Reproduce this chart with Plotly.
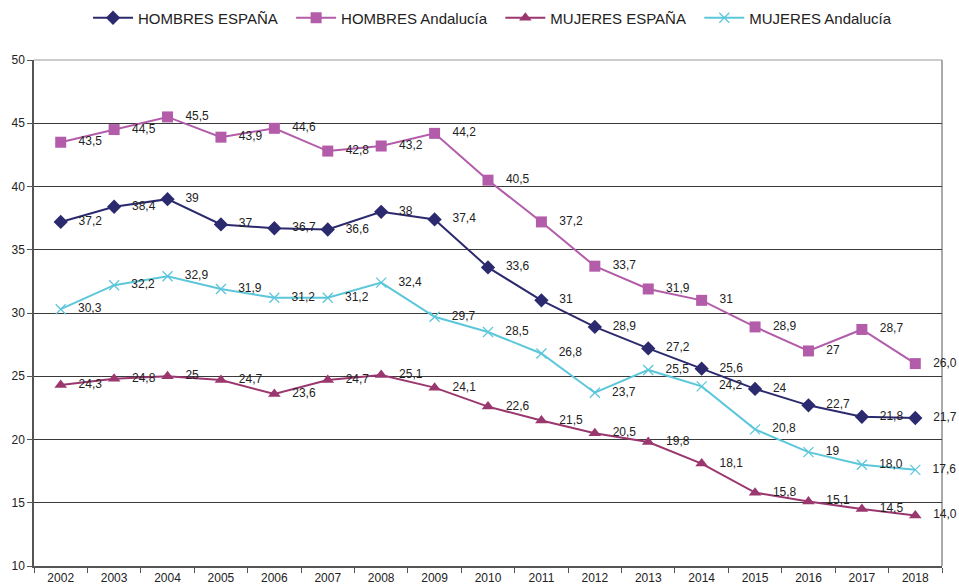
import plotly.graph_objects as go

years = [str(y) for y in range(2002, 2019)]

hombres_espana = [37.2, 38.4, 39, 37, 36.7, 36.6, 38, 37.4, 33.6, 31, 28.9, 27.2, 25.6, 24, 22.7, 21.8, 21.7]
hombres_andalucia = [43.5, 44.5, 45.5, 43.9, 44.6, 42.8, 43.2, 44.2, 40.5, 37.2, 33.7, 31.9, 31, 28.9, 27, 28.7, 26.0]
mujeres_espana = [24.3, 24.8, 25, 24.7, 23.6, 24.7, 25.1, 24.1, 22.6, 21.5, 20.5, 19.8, 18.1, 15.8, 15.1, 14.5, 14.0]
mujeres_andalucia = [30.3, 32.2, 32.9, 31.9, 31.2, 31.2, 32.4, 29.7, 28.5, 26.8, 23.7, 25.5, 24.2, 20.8, 19, 18.0, 17.6]

# indices whose label is shown with one fixed decimal
fixed_decimal = {
    "HOMBRES ESPAÑA": [16],
    "HOMBRES Andalucía": [16],
    "MUJERES ESPAÑA": [16],
    "MUJERES Andalucía": [15, 16],
}

y_ticks = [10, 15, 20, 25, 30, 35, 40, 45, 50]


def fmt(v, fixed):
    s = f"{v:.1f}" if fixed else f"{v:g}"
    return s.replace(".", ",")


def labels(name, vals):
    return ["   " + fmt(v, i in fixed_decimal[name]) for i, v in enumerate(vals)]


series = [
    ("HOMBRES ESPAÑA", hombres_espana, "#2C2A6E", dict(symbol="diamond", size=11)),
    ("HOMBRES Andalucía", hombres_andalucia, "#B25CAA", dict(symbol="square", size=11)),
    ("MUJERES ESPAÑA", mujeres_espana, "#9A376F", dict(symbol="triangle-up", size=11)),
    ("MUJERES Andalucía", mujeres_andalucia, "#5CC7DB", dict(symbol="x-thin", size=10, line=dict(width=1.3))),
]

fig = go.Figure()
for name, vals, color, mk in series:
    marker = dict(color=color, **{k: v for k, v in mk.items() if k != "line"})
    if "line" in mk:
        marker["line"] = dict(color=color, width=mk["line"]["width"])
    fig.add_trace(go.Scatter(
        x=years, y=vals, name=name + "\u00a0" * 2, mode="lines+markers+text",
        line=dict(color=color, width=2),
        marker=marker,
        text=labels(name, vals), textposition="middle right",
        textfont=dict(family="Liberation Sans, Arial, sans-serif", size=12, color="#222222"),
        cliponaxis=False,
    ))

fig.update_layout(
    width=959, height=585,
    margin=dict(l=34, r=17, t=60, b=19, autoexpand=False),
    paper_bgcolor="white", plot_bgcolor="white",
    font=dict(family="Liberation Sans, Arial, sans-serif", size=12, color="#222222"),
    legend=dict(orientation="h", x=0.0595, xanchor="left", y=1.083, yanchor="middle",
                font=dict(size=15, color="#222222"), tracegroupgap=0, itemwidth=40),
    showlegend=True,
)
fig.update_xaxes(
    type="category", range=[-0.5, len(years) - 0.5],
    tickson="boundaries", ticks="outside", ticklen=5,
    tickcolor="#555555", showline=True, linecolor="#555555", linewidth=1.5,
    showgrid=False, tickfont=dict(size=12), automargin=False,
)
fig.update_yaxes(
    range=[10, 50], tickvals=y_ticks, ticks="outside", ticklen=5, tickcolor="#555555",
    showline=True, linecolor="#555555", linewidth=1.5,
    showgrid=True, gridcolor="#3a3a3a", gridwidth=1, zeroline=False,
    tickfont=dict(size=12), automargin=False,
)
# plot-area border (right and top), drawn beneath the data and labels
fig.add_shape(type="line", xref="paper", yref="paper", x0=1, x1=1, y0=0, y1=1,
              line=dict(color="#aaaaaa", width=2), layer="below")
fig.add_shape(type="line", xref="paper", yref="paper", x0=0, x1=1, y0=1, y1=1,
              line=dict(color="#999999", width=1), layer="below")

fig.write_html("out.html", config={"displayModeBar": False},
               post_script="document.body.style.margin='0';")
